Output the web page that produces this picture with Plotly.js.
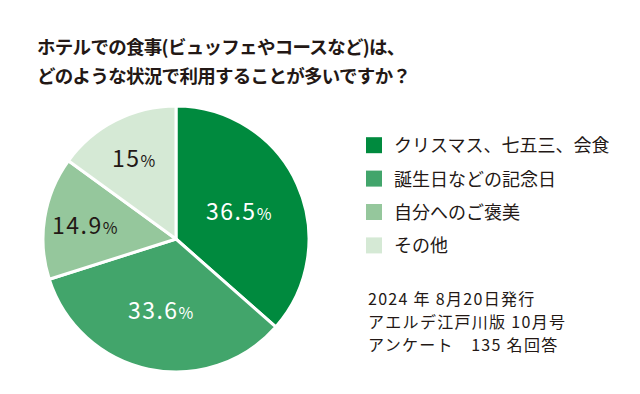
<!DOCTYPE html>
<html><head><meta charset="utf-8">
<script src="https://cdn.plot.ly/plotly-3.0.1.min.js"></script>
<style>
html,body{margin:0;padding:0;background:#fff}#c{width:640px;height:394px}
.gtitle{letter-spacing:-0.7px}
.slicetext{letter-spacing:1.5px}
.annotation-text{letter-spacing:1.3px}
</style>
</head><body><div id="c"></div>
<script>
const categories = ['クリスマス、七五三、会食', '誕生日などの記念日', '自分へのご褒美', 'その他'];
const values = [36.5, 33.6, 14.9, 15];
const colors = ['#008A3E', '#42A56B', '#95C79C', '#D5E9D5'];
const textColors = ['#ffffff', '#ffffff', '#231815', '#231815'];
const titleLines = ['ホテルでの食事(ビュッフェやコースなど)は、', 'どのような状況で利用することが多いですか？'];
const noteLines = ['2024 年 8月20日発行', 'アエルデ江戸川版 10月号', 'アンケート　135 名回答'];

const F = '"Noto Sans CJK JP", "Noto Sans", sans-serif';
const labelsText = values.map(v => v + '<span style="font-size:16px">%</span>');

const pie = {
  type: 'pie',
  labels: categories,
  values: values,
  text: labelsText,
  textinfo: 'text',
  textposition: 'inside',
  insidetextorientation: 'horizontal',
  sort: false,
  direction: 'clockwise',
  rotation: 0,
  showlegend: false,
  marker: {colors: colors, line: {color: '#ffffff', width: 3}},
  insidetextfont: {family: F, size: 23, color: textColors},
  hoverinfo: 'none',
  domain: {x: [43/640, 309/640], y: [22/394, 288/394]}
};

// legend entries built from the same categories / colours
const legendTraces = categories.map((c, i) => ({
  type: 'scatter', mode: 'markers', x: [null], y: [null], name: c,
  legendgroup: 'g' + i,
  marker: {symbol: 'square', size: 16, color: colors[i]},
  hoverinfo: 'none', xaxis: 'x', yaxis: 'y'
}));

const layout = {
  width: 640, height: 394,
  margin: {l: 0, r: 0, t: 0, b: 0},
  paper_bgcolor: '#ffffff', plot_bgcolor: 'rgba(0,0,0,0)',
  font: {family: F, color: '#231815'},
  xaxis: {visible: false, domain: [0.99, 1]},
  yaxis: {visible: false, domain: [0.99, 1]},
  title: {text: titleLines.map(t => '<span style="font-size:18.5px">' + t + '</span>').join('<br>'),
          x: 37/640, xanchor: 'left', y: 1 - 54/394, yanchor: 'top',
          font: {family: F, size: 22, color: '#231815', weight: 700}},
  showlegend: true,
  legend: {x: 354/640, xanchor: 'left', y: 1 - 127/394, yanchor: 'top',
           tracegroupgap: 7, font: {family: F, size: 18, color: '#231815'}, itemclick: false},
  annotations: [{
    text: noteLines.map(t => '<span style="font-size:16px">' + t + '</span>').join('<br>'),
    showarrow: false, xref: 'paper', yref: 'paper',
    x: 366/640, xanchor: 'left', y: 1 - 284/394, yanchor: 'top', align: 'left',
    font: {family: F, size: 17.7, color: '#231815'}
  }]
};
Plotly.newPlot('c', [pie].concat(legendTraces), layout, {displayModeBar: false, staticPlot: true});
</script></body></html>
